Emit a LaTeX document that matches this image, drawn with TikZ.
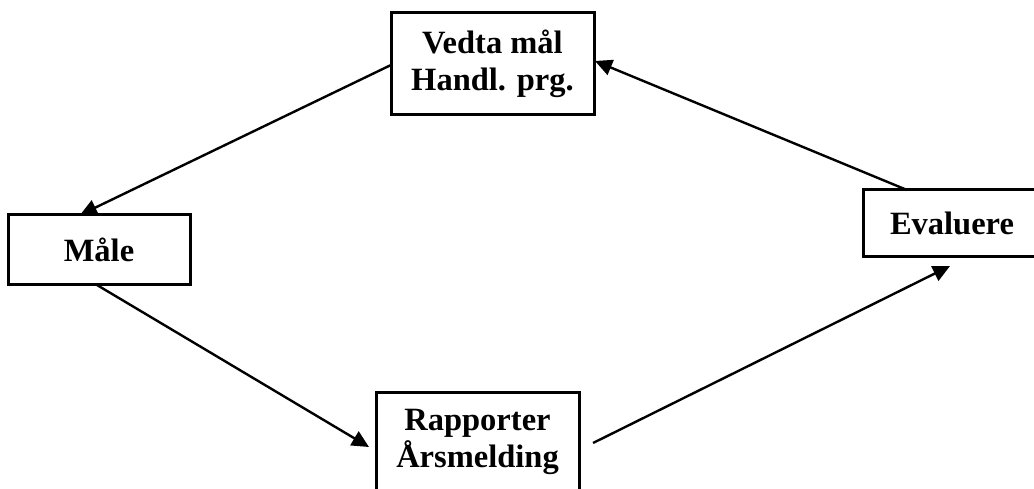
\documentclass[tikz,border=0pt]{standalone}
\usepackage{fontspec}
\setmainfont{Liberation Serif}
\usetikzlibrary{arrows.meta}
\begin{document}
\begin{tikzpicture}[x=1pt,y=-1pt,
  box/.style={draw,line width=3pt,align=center,font=\fontsize{32.5}{37}\selectfont\bfseries,inner sep=0pt},
  conn/.style={line width=2.4pt,-{Triangle[length=17pt,width=16pt]}}]
\useasboundingbox (0,0) rectangle (1034,489);
\node[box,minimum width=203pt,minimum height=102pt] (top) at (492.5,64) {Vedta mål\\Handl. prg.};
\node[box,minimum width=182pt,minimum height=70pt] (male) at (99,250) {Måle};
\node[box,minimum width=178pt,minimum height=67pt] (eval) at (952,223.5) {Evaluere};
\node[box,minimum width=203pt,minimum height=100pt] (rap) at (477.5,442) {Rapporter\\Årsmelding};
\coordinate (a1s) at (391,65);
\coordinate (a1e) at (80,215);
\coordinate (a2s) at (97,285);
\coordinate (a2e) at (369,447);
\coordinate (a3s) at (593,443);
\coordinate (a3e) at (950,266);
\coordinate (a4s) at (907,190);
\coordinate (a4e) at (595,61);
\draw[conn] (a1s) -- (a1e);
\draw[conn] (a2s) -- (a2e);
\draw[conn] (a3s) -- (a3e);
\draw[conn] (a4s) -- (a4e);
\end{tikzpicture}
\end{document}
